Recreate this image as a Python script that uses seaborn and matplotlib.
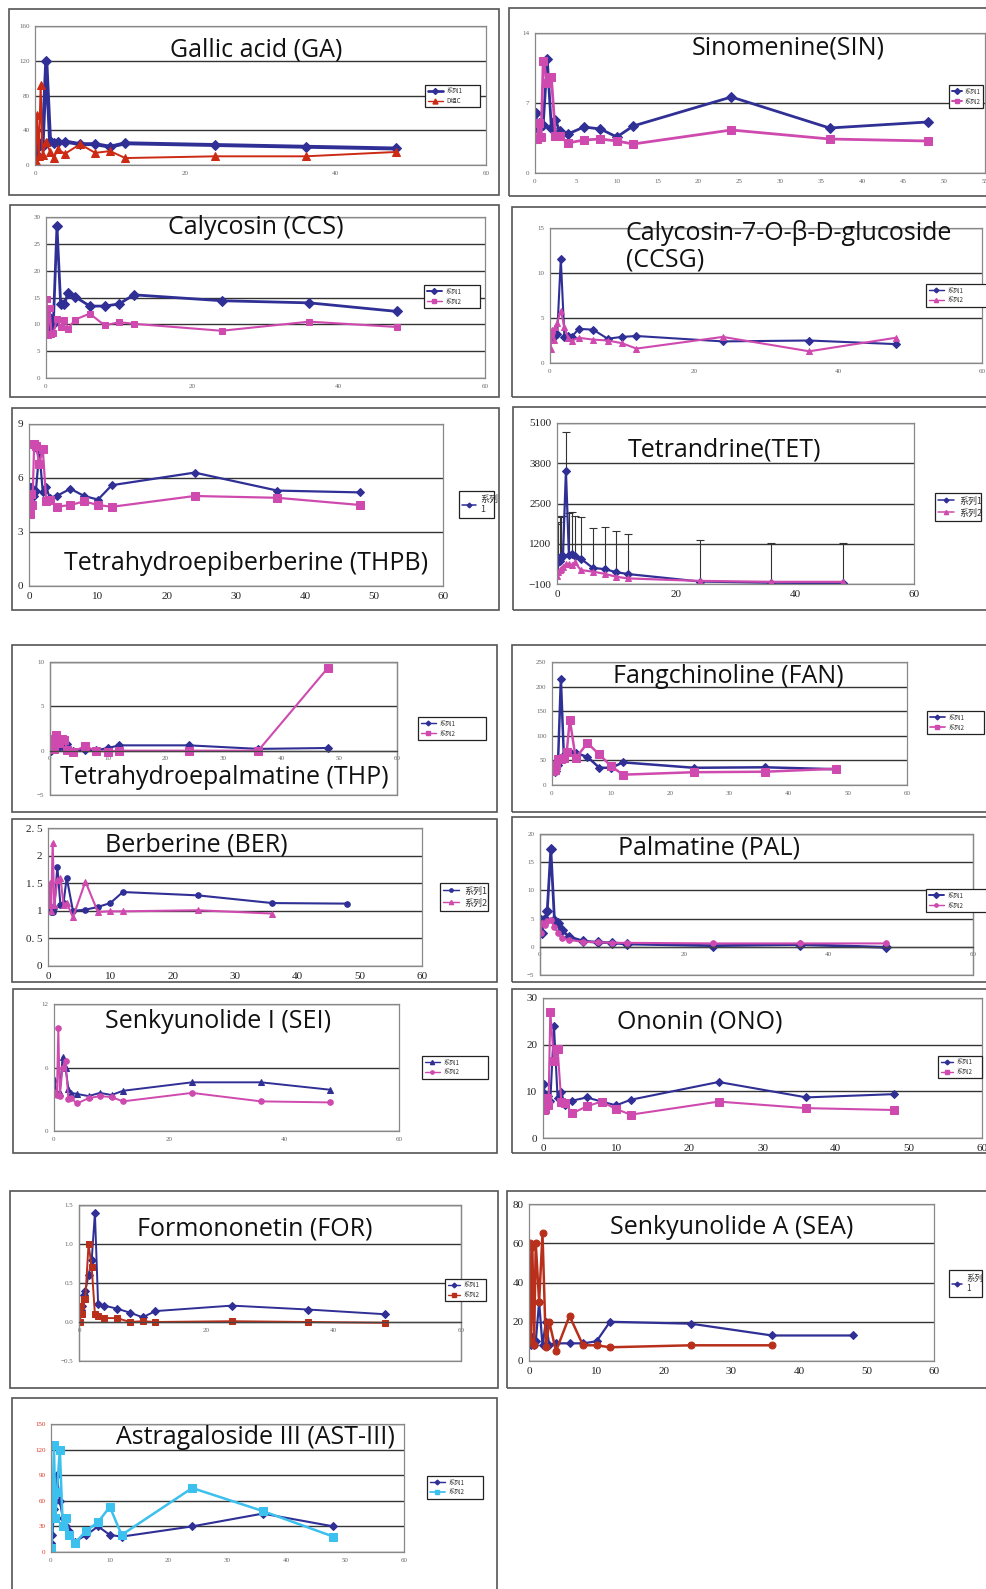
import numpy as np
import pandas as pd
import seaborn as sns
import matplotlib.pyplot as plt
from matplotlib.patches import Rectangle
from matplotlib.lines import Line2D

# --- DATA ---
t = [0.083, 0.25, 0.5, 0.75, 1, 1.5, 2, 2.5, 3, 4, 6, 8, 10, 12, 24, 36, 48]

ga_1 = [40, 12, 22, 25, 22, 120, 28, 25, 26, 27, 24, 24, 21, 25, 23, 21, 19]
ga_2 = [5, 58, 10, 92, 12, 27, 15, 8, 18, 13, 24, 14, 16, 8, 10, 10, 15]
sin_1 = [6.0, 4.5, 5.0, 4.7, 4.8, 11.4, 4.5, 5.3, 4.2, 3.9, 4.6, 4.4, 3.6, 4.7, 7.6, 4.5, 5.1]
sin_2 = [3.4, 3.4, 5.0, 3.6, 11.2, 9.0, 9.6, 3.7, 3.7, 3.0, 3.3, 3.4, 3.2, 2.9, 4.3, 3.4, 3.2]
ccs_1 = [11.7, 9.2, 9.5, 11.0, 10.0, 28.3, 13.8, 13.7, 15.8, 15.1, 13.4, 13.4, 13.8, 15.5, 14.4, 14.0, 12.4]
ccs_2 = [14.7, 8.0, 13.1, 8.2, 8.3, 11.0, 9.5, 10.9, 9.2, 10.9, 12.0, 9.8, 10.4, 10.1, 8.8, 10.5, 9.5]
ccsg_1 = [2.9, 3.0, 3.2, 3.0, 3.2, 11.6, 2.9, 3.0, 2.9, 3.8, 3.7, 2.7, 2.9, 3.0, 2.4, 2.5, 2.1]
ccsg_2 = [1.6, 3.7, 2.6, 4.0, 4.5, 5.8, 4.0, 2.8, 2.5, 2.8, 2.6, 2.5, 2.2, 1.6, 2.9, 1.3, 2.8]
thpb_1 = [5.5, 5.5, 5.0, 5.0, 5.3, 7.5, 5.2, 5.5, 4.9, 5.0, 5.4, 5.0, 4.8, 5.6, 6.3, 5.3, 5.2]
thpb_2 = [4.0, 5.1, 4.5, 7.9, 7.8, 6.8, 7.6, 4.7, 4.8, 4.4, 4.5, 4.7, 4.5, 4.4, 5.0, 4.9, 4.5]
tet_1 = [300, 600, 650, 800, 800, 3550, 850, 870, 800, 720, 420, 380, 280, 220, -20, -60, -70]
tet_2 = [150, 300, 350, 400, 450, 550, 550, 500, 600, 350, 300, 230, 130, 80, 0, -30, -30]
tet_sd = [1550, 1300, 1400, 1300, 1300, 1250, 1350, 1350, 1300, 1330, 1300, 1350, 1320, 1300, 1350, 1300, 1300]
thp_1 = [0.3, 0.0, 0.2, 0.5, 0.3, 0.4, 0.5, 0.3, 0.7, 0.0, 0.1, 0.05, 0.3, 0.6, 0.6, 0.2, 0.3]
thp_2 = [0.3, 1.3, 1.0, 0.2, 1.8, 0.9, 1.3, 1.2, 0.1, -0.1, 0.5, 0.0, -0.1, 0.0, 0.0, 0.0, 9.3]
fan_1 = [40, 28, 26, 28, 40, 215, 60, 65, 68, 65, 57, 35, 35, 46, 35, 36, 32]
fan_2 = [28, 40, 30, 40, 52, 52, 55, 68, 133, 55, 85, 62, 38, 21, 26, 27, 33]
ber_1 = [1.1, 1.05, 0.98, 0.97, 1.05, 1.8, 1.1, 1.15, 1.6, 1.0, 1.02, 1.07, 1.14, 1.34, 1.28, 1.14, 1.13]
ber_2 = [1.1, 1.5, 1.0, 2.23, 1.1, 1.55, 1.6, 1.1, 1.15, 0.88, 1.53, 0.98, 0.99, 0.99, 1.01, 0.95, np.nan]
pal_1 = [4.8, 2.5, 4.8, 5.0, 6.3, 17.3, 4.8, 4.2, 3.0, 1.8, 1.0, 0.8, 0.7, 0.5, 0.2, 0.4, -0.1]
pal_2 = [2.5, 4.2, 4.0, 3.8, 4.5, 4.8, 3.5, 2.5, 1.5, 1.2, 0.9, 0.8, 0.7, 0.7, 0.6, 0.6, 0.6]
sei_1 = [4.9, 4.0, 3.5, 3.5, 3.6, 7.0, 6.0, 4.0, 3.6, 3.5, 3.3, 3.6, 3.4, 3.8, 4.6, 4.6, 3.9]
sei_2 = [3.7, 3.5, 3.4, 9.7, 3.3, 6.0, 6.6, 3.0, 3.1, 2.6, 3.1, 3.3, 3.2, 2.8, 3.6, 2.8, 2.7]
ono_1 = [11.5, 9.5, 8.5, 9.0, 8.0, 24.0, 8.5, 9.8, 7.0, 8.0, 8.7, 7.8, 7.0, 8.2, 12.0, 8.7, 9.4]
ono_2 = [6.0, 6.2, 8.5, 7.0, 27.0, 16.5, 19.0, 7.8, 7.5, 5.3, 6.8, 7.8, 6.2, 5.0, 7.8, 6.4, 6.0]
for_1 = [0.1, 0.15, 0.2, 0.35, 0.4, 0.6, 0.8, 1.4, 0.23, 0.21, 0.17, 0.12, 0.06, 0.14, 0.21, 0.16, 0.1]
for_2 = [0.0, 0.2, 0.1, 0.3, 0.3, 1.0, 0.7, 0.1, 0.08, 0.05, 0.05, 0.0, 0.01, 0.0, 0.01, 0.0, -0.01]
sea_1 = [12, 8, 12, 8, 10, 30, 8, 20, 8, 9, 9, 9, 10, 20, 19, 13, 13]
sea_2 = [60, 10, 58, 8, 60, 30, 65, 7, 20, 5, 23, 8, 8, 7, 8, 8, np.nan]
ast_1 = [10, 20, 50, 60, 90, 60, 40, 30, 25, 12, 20, 30, 20, 18, 30, 45, 30]
ast_2 = [5, 50, 125, 40, 70, 120, 30, 40, 20, 10, 25, 35, 53, 20, 75, 48, 18]

BLUE = "#2f2f96"
MAG = "#cf4aae"
RED = "#cc2a14"
DRED = "#b8301c"
CYAN = "#3cc0ee"

W, H = 987, 1589
fig = plt.figure(figsize=(W / 100, H / 100), dpi=100)
sns.set_style("white")
plt.rcParams["font.family"] = ["Liberation Serif", "Noto Sans CJK SC"]


def frac(l, t_, r, b):
    return [l / W, 1 - b / H, (r - l) / W, (b - t_) / H]


def panel(border, plot, title, tpos, ylim, yticks, xlim, xticks, series, legbox, labels,
          big=False, zero_axis=False, ylabels=None, ycolor=None, tsize=18, talign="center",
          legtext=None, errs=None, hlen=2.5):
    # panel border
    l, tp, r, b = border
    fig.patches.append(Rectangle((l / W, 1 - b / H), (r - l) / W, (b - tp) / H,
                                 transform=fig.transFigure, fill=False, ec="#555555", lw=1.2))
    ax = fig.add_axes(frac(*plot))
    for i, (vals, color, marker, ms, lw) in enumerate(series):
        d = pd.DataFrame({"t": t, "v": vals}).dropna()
        sns.lineplot(data=d, x="t", y="v", ax=ax, color=color, marker=marker, markersize=ms,
                     markeredgecolor=color, linewidth=lw, errorbar=None, legend=False)
        if errs is not None and i == 0:
            ax.errorbar(t, vals, yerr=[np.zeros(len(errs)), errs], fmt="none", ecolor="#333333",
                        elinewidth=0.8, capsize=3, capthick=0.8, zorder=1)
    ax.set_xlim(xlim)
    ax.set_ylim(ylim)
    ax.set_xticks(xticks)
    ax.set_yticks(yticks)
    if ylabels is not None:
        ax.set_yticklabels(ylabels)
    ax.set_xlabel("")
    ax.set_ylabel("")
    fs = 8 if big else 5
    col = "#222222" if big else "#666666"
    ax.tick_params(axis="x", labelsize=fs, colors="#555555", labelcolor=col, length=2, width=0.6, pad=2)
    ax.tick_params(axis="y", labelsize=fs, colors="#555555", labelcolor=ycolor or col,
                   length=2, width=0.6, pad=2)
    ax.yaxis.grid(True, color="#333333", lw=1.0)
    ax.xaxis.grid(False)
    for s in ax.spines.values():
        s.set_color("#888888")
        s.set_linewidth(0.9)
    if zero_axis:
        ax.spines["bottom"].set_position(("data", 0))
        ax.spines["bottom"].set_color("#444444")
        ax.add_patch(Rectangle((0, 0), 1, 1, transform=ax.transAxes, fill=False, ec="#888888",
                               lw=0.9, clip_on=False))
    # title
    if talign == "center":
        fig.text(tpos[0] / W, 1 - tpos[1] / H, title, ha="center", va="center", fontsize=tsize,
                 family="Open Sans", color="#111111")
    else:
        fig.text(tpos[0] / W, 1 - tpos[1] / H, title, ha="left", va="top", fontsize=tsize,
                 family="Open Sans", color="#111111", linespacing=1.1)
    # legend
    handles = [Line2D([], [], color=c, marker=m, markersize=ms * 0.6, mec=c, lw=max(lw * 0.7, 1))
               for (v, c, m, ms, lw) in series]
    handles = handles[:len(labels)]
    ll, lt, lr, lb = legbox
    leg = ax.legend(handles, labels, loc="center left",
                    bbox_to_anchor=(ll / W, 1 - lb / H, (lr - ll) / W, (lb - lt) / H),
                    bbox_transform=fig.transFigure, mode="expand", fancybox=False,
                    framealpha=1, edgecolor="#222222", fontsize=legtext or (7 if big else 4.5),
                    handlelength=hlen, borderpad=0.4, labelspacing=0.3, handletextpad=0.5)
    leg.get_frame().set_linewidth(0.9)
    for txt in leg.get_texts():
        txt.set_family(["Noto Sans CJK SC", "DejaVu Sans"])
        txt.set_color("#333333")
    return ax


s2 = ["系列1", "系列2"]

panel((9, 9, 499, 195), (35, 26, 486, 165), "Gallic acid (GA)", (256, 50),
      (0, 160), [0, 40, 80, 120, 160], (0, 60), [0, 20, 40, 60],
      [(ga_1, BLUE, "D", 5, 2.8), (ga_2, RED, "^", 6, 1.4)], (422, 82, 483, 110), ["系列1", "D组C"])

panel((509, 8, 1000, 196), (535, 33, 985, 173), "Sinomenine(SIN)", (788, 48),
      (0, 14), [0, 7, 14], (0, 55), list(range(0, 56, 5)),
      [(sin_1, BLUE, "D", 5, 2.0), (sin_2, MAG, "s", 6, 2.0)], (946, 83, 986, 110), s2, hlen=1.6)

panel((10, 205, 499, 397), (46, 217, 485, 378), "Calycosin (CCS)", (256, 227),
      (0, 30), [0, 5, 10, 15, 20, 25, 30], (0, 60), [0, 20, 40, 60],
      [(ccs_1, BLUE, "D", 5, 2.0), (ccs_2, MAG, "s", 4, 1.5)], (421, 287, 483, 306), s2)

panel((512, 207, 1000, 397), (550, 228, 982, 363), "Calycosin-7-O-β-D-glucoside\n(CCSG)", (626, 220),
      (0, 15), [0, 5, 10, 15], (0, 60), [0, 20, 40, 60],
      [(ccsg_1, BLUE, "D", 4, 1.5), (ccsg_2, MAG, "^", 5, 1.5)], (923, 281, 1000, 310), s2,
      talign="left")

panel((12, 408, 499, 610), (29, 424, 443, 586), "Tetrahydroepiberberine (THPB)", (246, 563),
      (0, 9), [0, 3, 6, 9], (0, 60), list(range(0, 61, 10)),
      [(thpb_1, BLUE, "D", 4, 1.6), (thpb_2, MAG, "s", 6, 1.6)], (454, 492, 499, 517), ["系列\n1"],
      big=True, legtext=6.5, hlen=1.5)

panel((513, 407, 1000, 610), (557, 423, 914, 584), "Tetrandrine(TET)", (724, 450),
      (-100, 5100), [-100, 1200, 2500, 3800, 5100], (0, 60), [0, 20, 40, 60],
      [(tet_1, BLUE, "D", 4, 1.6), (tet_2, MAG, "^", 5, 1.6)], (930, 493, 986, 521), s2,
      big=True, errs=tet_sd, legtext=6.5, hlen=1.8)

panel((12, 645, 497, 812), (50, 662, 397, 795), "Tetrahydroepalmatine (THP)", (224, 777),
      (-5, 10), [-5, 0, 5, 10], (0, 60), list(range(0, 61, 10)),
      [(thp_1, BLUE, "D", 4, 1.5), (thp_2, MAG, "s", 6, 1.5)], (415, 717, 489, 740), s2,
      zero_axis=True)

panel((512, 645, 1000, 812), (552, 662, 907, 785), "Fangchinoline (FAN)", (728, 677),
      (0, 250), [0, 50, 100, 150, 200, 250], (0, 60), list(range(0, 61, 10)),
      [(fan_1, BLUE, "D", 4, 1.8), (fan_2, MAG, "s", 6, 1.8)], (924, 711, 987, 734), s2)

panel((12, 819, 497, 982), (48, 828, 422, 966), "Berberine (BER)", (196, 845),
      (0, 2.5), [0, 0.5, 1, 1.5, 2, 2.5], (0, 60), list(range(0, 61, 10)),
      [(ber_1, BLUE, "o", 4, 1.5), (ber_2, MAG, "^", 5, 1.5)], (435, 888, 493, 906), s2,
      big=True, ylabels=["0", "0. 5", "1", "1. 5", "2", "2. 5"], legtext=6.5, hlen=1.8)

panel((512, 817, 1000, 982), (540, 834, 973, 975), "Palmatine (PAL)", (709, 848),
      (-5, 20), [-5, 0, 5, 10, 15, 20], (0, 60), [0, 20, 40, 60],
      [(pal_1, BLUE, "D", 5, 2.0), (pal_2, MAG, "o", 4, 1.5)], (923, 891, 1000, 910), s2,
      zero_axis=True)

panel((13, 989, 497, 1153), (54, 1004, 399, 1131), "Senkyunolide I (SEI)", (218, 1021),
      (0, 12), [0, 6, 12], (0, 60), [0, 20, 40, 60],
      [(sei_1, BLUE, "^", 5, 1.4), (sei_2, MAG, "o", 4, 1.4)], (419, 1058, 491, 1077), s2)

panel((512, 989, 1000, 1153), (543, 998, 982, 1138), "Ononin (ONO)", (700, 1022),
      (0, 30), [0, 10, 20, 30], (0, 60), list(range(0, 61, 10)),
      [(ono_1, BLUE, "D", 4, 1.5), (ono_2, MAG, "s", 6, 1.5)], (935, 1060, 985, 1074), s2, big=True,
      legtext=4.5, hlen=2.0)

panel((10, 1191, 498, 1388), (79, 1205, 461, 1361), "Formononetin (FOR)", (255, 1229),
      (-0.5, 1.5), [-0.5, 0, 0.5, 1, 1.5], (0, 60), [0, 20, 40, 60],
      [(for_1, BLUE, "D", 4, 1.4), (for_2, DRED, "s", 4, 1.4)], (442, 1273, 489, 1307), s2,
      zero_axis=True, hlen=2.0)

panel((507, 1191, 1000, 1388), (529, 1204, 934, 1361), "Senkyunolide A (SEA)", (732, 1228),
      (0, 80), [0, 20, 40, 60, 80], (0, 60), list(range(0, 61, 10)),
      [(sea_1, BLUE, "D", 4, 1.6), (sea_2, DRED, "o", 5, 1.8)], (945, 1270, 986, 1297), ["系列\n1"],
      big=True, legtext=6, hlen=1.2)

panel((12, 1398, 497, 1600), (51, 1424, 404, 1552), "Astragaloside III (AST-III)", (255, 1437),
      (0, 150), [0, 30, 60, 90, 120, 150], (0, 60), list(range(0, 61, 10)),
      [(ast_1, BLUE, "D", 4, 1.5), (ast_2, CYAN, "s", 6, 1.8)], (424, 1471, 486, 1504), s2,
      ycolor="#e03020")

fig.savefig("out.png", dpi=100, facecolor="white")
